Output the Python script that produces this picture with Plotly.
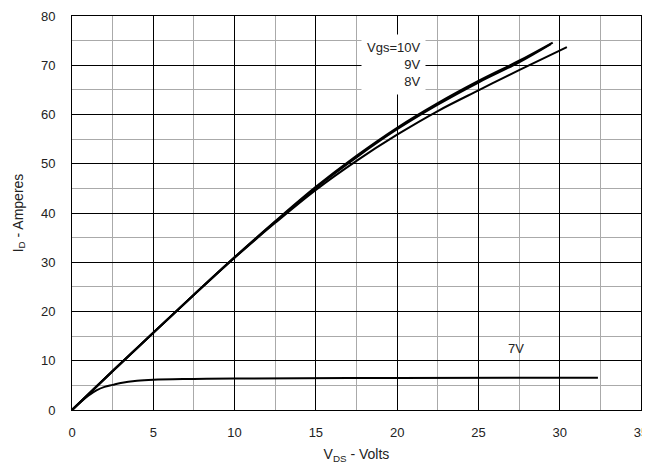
import plotly.graph_objects as go

# Output characteristics data
vds_10 = [0, 2.5, 5, 7.5, 10, 12.5, 15, 17.5, 20, 22.5, 25, 27.5, 29.57]
id_10 = [0, 7.9, 15.7, 23.4, 31.0, 38.3, 45.3, 51.6, 57.3, 62.3, 66.8, 70.9, 74.6]

vds_9 = [0, 2.5, 5, 7.5, 10, 12.5, 15, 17.5, 20, 22.5, 25, 27.5, 29.45]
id_9 = [0, 7.9, 15.7, 23.4, 31.0, 38.2, 45.1, 51.3, 57.0, 62.0, 66.5, 70.6, 74.3]

vds_8 = [0, 2.5, 5, 7.5, 10, 12.5, 15, 17.5, 20, 22.5, 25, 27.5, 30.44]
id_8 = [0, 7.9, 15.7, 23.4, 30.9, 38.0, 44.7, 50.6, 55.9, 60.7, 64.9, 69.0, 73.7]

vds_7 = [0, 0.5, 1, 1.5, 2, 2.5, 3, 4, 5, 7.5, 10, 20, 32.35]
id_7 = [0, 1.5, 2.9, 4.0, 4.7, 5.1, 5.5, 5.95, 6.15, 6.3, 6.4, 6.5, 6.55]

x_ticks = [0, 5, 10, 15, 20, 25, 30, 35]
y_ticks = [0, 10, 20, 30, 40, 50, 60, 70, 80]

fig = go.Figure()
for xs, ys, w in [(vds_7, id_7, 2), (vds_8, id_8, 2), (vds_9, id_9, 2), (vds_10, id_10, 2.2)]:
    fig.add_trace(go.Scatter(x=xs, y=ys, mode="lines", line=dict(color="black", width=w, shape="spline", smoothing=1.0),
                             showlegend=False, hoverinfo="skip"))

font_family = "Liberation Sans, Arial, sans-serif"
fig.add_annotation(x=21.77, y=70.2, xref="x", yref="y", text="Vgs=10V<br>9V<br>8V", showarrow=False,
                   xanchor="right", yanchor="middle", align="right", bgcolor="white", borderpad=5,
                   font=dict(family=font_family, size=13, color="#222"))
fig.add_annotation(x=27.3, y=12.4, xref="x", yref="y", text="7V", showarrow=False,
                   font=dict(family=font_family, size=13, color="#222"))

# page body has an 8px default margin, so the figure is sized/offset to compensate
fig.update_layout(
    width=642, height=456,
    margin=dict(l=64, r=9, t=8, b=54),
    paper_bgcolor="white", plot_bgcolor="white",
    font=dict(family=font_family, size=13, color="#222"),
    xaxis=dict(range=[0, 35], tickvals=x_ticks, showgrid=True, gridcolor="black", gridwidth=1,
               minor=dict(dtick=2.5, showgrid=True, gridcolor="#aaaaaa", gridwidth=1),
               zeroline=False, showline=True, linecolor="black", linewidth=1, mirror=True,
               ticks="outside", ticklen=10, tickcolor="rgba(0,0,0,0)", automargin=False,
               title=dict(text="V<sub>DS</sub> - Volts", font=dict(size=14), standoff=12)),
    yaxis=dict(range=[0, 80], tickvals=y_ticks, showgrid=True, gridcolor="black", gridwidth=1,
               minor=dict(dtick=5, showgrid=True, gridcolor="#aaaaaa", gridwidth=1),
               zeroline=False, showline=True, linecolor="black", linewidth=1, mirror=True,
               ticks="outside", ticklen=13, tickcolor="rgba(0,0,0,0)", automargin=False,
               title=dict(text="I<sub>D</sub> - Amperes", font=dict(size=14), standoff=14)),
)

fig.write_html("out.html")
